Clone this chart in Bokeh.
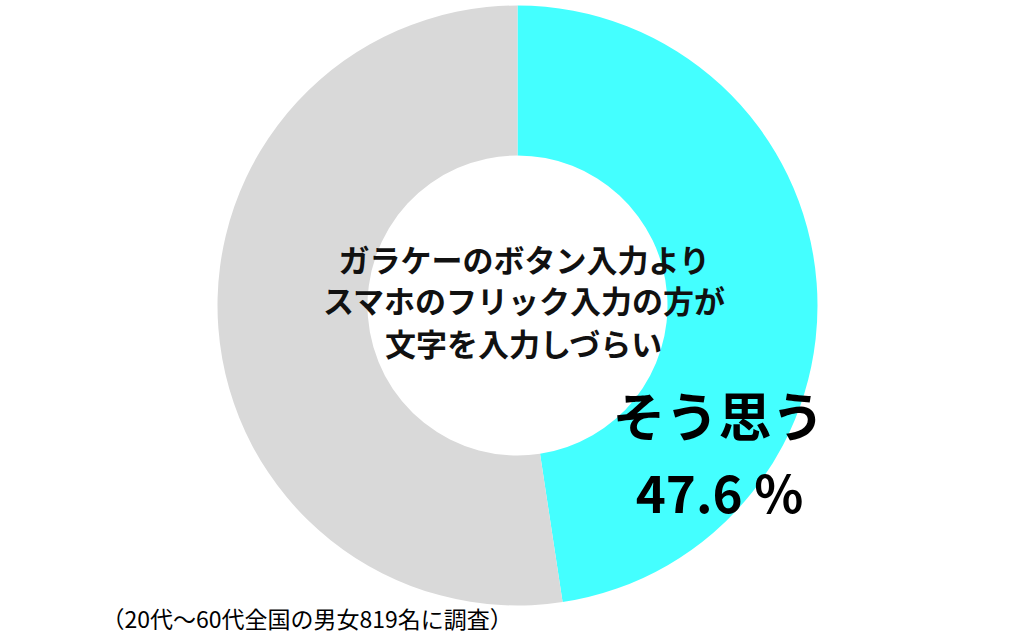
import math
from bokeh.plotting import figure
from bokeh.models import Range1d, ColumnDataSource
from bokeh.core.properties import value
from bokeh.embed import file_html
from bokeh.resources import INLINE

categories = ["そう思う", "そう思わない"]
shares = [47.6, 52.4]
colors = ["#44FFFF", "#D9D9D9"]
center_lines = ["ガラケーのボタン入力より", "スマホのフリック入力の方が", "文字を入力しづらい"]
footnote = "（20代～60代全国の男女819名に調査）"

W, H = 1017, 636
p = figure(width=W, height=H, output_backend="svg", toolbar_location=None,
           x_range=Range1d(0, W), y_range=Range1d(0, H), min_border=0)
p.axis.visible = False
p.grid.visible = False
p.outline_line_color = None
p.background_fill_color = "white"
p.border_fill_color = "white"

cx, cy = 517, 331
r_out, r_in = 300, 150

total = sum(shares)
starts, ends = [], []
cum = 0.0
for s in shares:
    a0 = math.pi / 2 - 2 * math.pi * (cum + s) / total
    a1 = math.pi / 2 - 2 * math.pi * cum / total
    starts.append(a0)
    ends.append(a1)
    cum += s

src = ColumnDataSource(dict(x=[cx] * len(shares), y=[cy] * len(shares),
                            start=starts, end=ends, color=colors))
p.annular_wedge(x="x", y="y", inner_radius=r_in, outer_radius=r_out,
                start_angle="start", end_angle="end", fill_color="color",
                line_color=None, source=src, direction="anticlock")

font = value("Noto Sans CJK JP")
ys = [378, 337, 294]
p.text(x=[524] * 3, y=ys, text=center_lines, text_font=font, text_font_size="31px",
       text_font_style="bold", text_align="center", text_baseline="middle", text_color="#111111")

p.text(x=[718], y=[223], text=[categories[0]], text_font=font, text_font_size="53px",
       text_font_style="bold", text_align="center", text_baseline="middle", text_color="black")
p.text(x=[719], y=[146], text=[f"{shares[0]} %"], text_font=font, text_font_size="51px",
       text_font_style="bold", text_align="center", text_baseline="middle", text_color="black")

p.text(x=[101], y=[19], text=[footnote], text_font=font, text_font_size="23px",
       text_align="left", text_baseline="middle", text_color="black")

open("out.html", "w").write(file_html(p, INLINE))
